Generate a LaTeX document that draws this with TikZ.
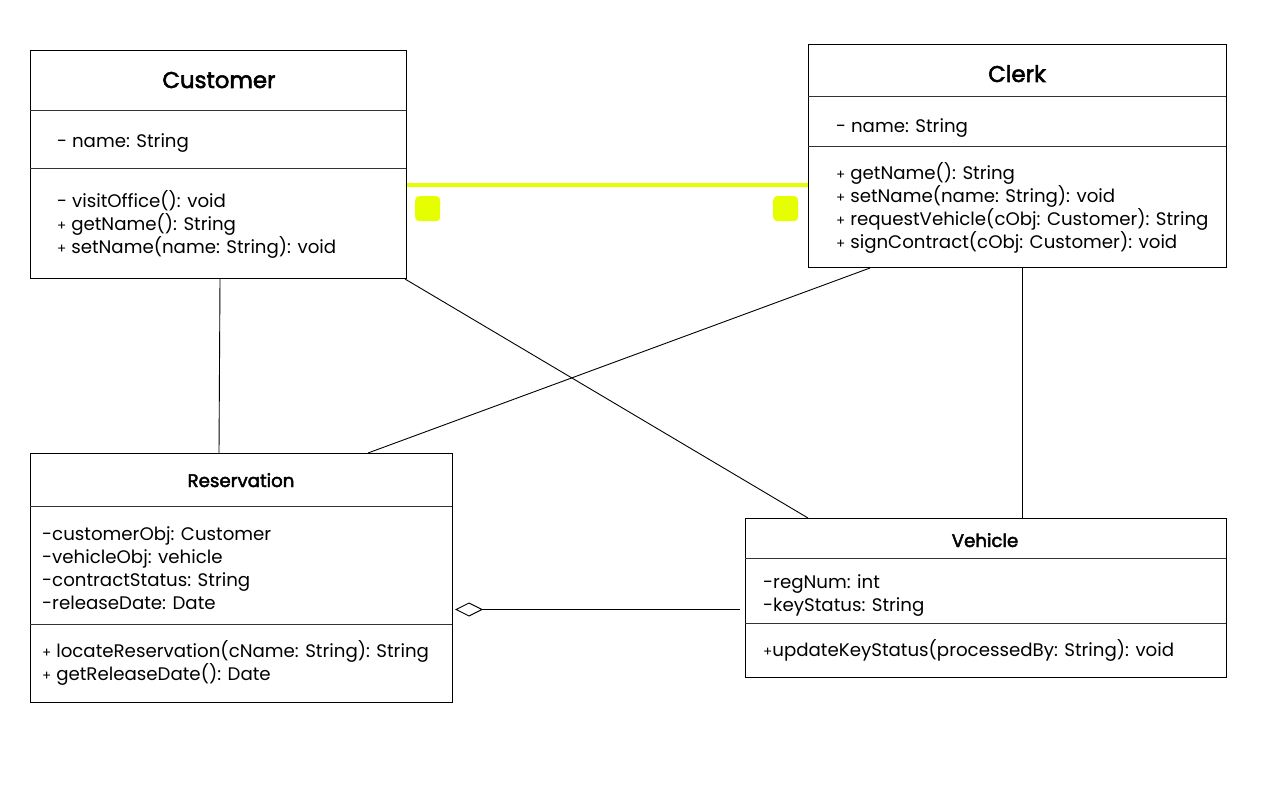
\documentclass[tikz,border=0pt]{standalone}
\usepackage{fontspec}
\setmainfont{Poppins}
\newfontfamily\titlefont[FakeBold=2.5]{Poppins}
\usetikzlibrary{arrows.meta}
\definecolor{hl}{RGB}{230,255,0}
\newcommand{\pl}{{\fontsize{13.5}{13.5}\selectfont+}}
\tikzset{
  box/.style={draw=black, line width=1pt, anchor=north west, inner sep=0pt, fill=white},
  sep/.style={line width=1pt, draw=black!80},
  txt/.style={anchor=base west, inner sep=0pt, font=\fontsize{18.2}{23}\selectfont},
  bigtitle/.style={anchor=base, inner sep=0pt, font=\fontsize{22.8}{26}\selectfont\titlefont},
  smalltitle/.style={anchor=base, inner sep=0pt, font=\fontsize{18.2}{22}\selectfont\titlefont},
  conn/.style={line width=0.9pt, draw=black},
  handle/.style={fill=hl, draw=none, rounded corners=4pt, minimum size=25pt, inner sep=0pt, anchor=north west},
}
\begin{document}
\begin{tikzpicture}[x=1pt,y=-1pt]
\useasboundingbox (0,0) rectangle (1266,791);
\fill[white] (0,0) rectangle (1266,791);

% ---------- Customer ----------
\node[box, minimum width=376pt, minimum height=228pt] (cust) at (30,50) {};
\draw[sep] (30,111) -- (406,111);
\draw[sep] (30,169) -- (406,169);
\node[bigtitle] (custT) at (219,88) {Customer};
\node[txt] (c1) at (57,148) {- name: String};
\node[txt] (c2) at (57,208) {- visitOffice(): void};
\node[txt] (c3) at (57,231) {\pl{} getName(): String};
\node[txt] (c4) at (57,254) {\pl{} setName(name: String): void};

% ---------- Clerk ----------
\node[box, minimum width=418pt, minimum height=223pt] (clerk) at (808,44) {};
\draw[sep] (808,97) -- (1226,97);
\draw[sep] (808,147) -- (1226,147);
\node[bigtitle] (clerkT) at (1017,82) {Clerk};
\node[txt] (k1) at (836,133) {- name: String};
\node[txt] (k2) at (836,180) {\pl{} getName(): String};
\node[txt] (k3) at (836,203) {\pl{} setName(name: String): void};
\node[txt] (k4) at (836,226) {\pl{} requestVehicle(cObj: Customer): String};
\node[txt] (k5) at (836,249) {\pl{} signContract(cObj: Customer): void};

% ---------- Reservation ----------
\node[box, minimum width=422pt, minimum height=249pt] (res) at (30,453) {};
\draw[sep] (30,506) -- (452,506);
\draw[sep] (30,624) -- (452,624);
\node[smalltitle] (resT) at (241,487) {Reservation};
\node[txt] (r1) at (42,540) {-customerObj: Customer};
\node[txt] (r2) at (42,563) {-vehicleObj: vehicle};
\node[txt] (r3) at (42,586) {-contractStatus: String};
\node[txt] (r4) at (42,609) {-releaseDate: Date};
\node[txt] (r5) at (42,657) {\pl{} locateReservation(cName: String): String};
\node[txt] (r6) at (42,680) {\pl{} getReleaseDate(): Date};

% ---------- Vehicle ----------
\node[box, minimum width=481pt, minimum height=159pt] (veh) at (745,518) {};
\draw[sep] (745,558) -- (1226,558);
\draw[sep] (745,623) -- (1226,623);
\node[smalltitle] (vehT) at (985,547) {Vehicle};
\node[txt] (v1) at (763,588) {-regNum: int};
\node[txt] (v2) at (763,611) {-keyStatus: String};
\node[txt] (v3) at (763,656) {\pl{}updateKeyStatus(processedBy: String): void};

% ---------- connectors ----------
\coordinate (cA) at ([xshift=190pt]cust.south west);
\coordinate (rA) at ([xshift=189pt]res.north west);
\draw[conn] (cA) -- (rA);
\coordinate (cB) at ([xshift=-2pt]cust.south east);
\coordinate (vB) at ([xshift=63pt]veh.north west);
\draw[conn] (cB) -- (vB);
\coordinate (kC) at ([xshift=62pt]clerk.south west);
\coordinate (rC) at ([xshift=338pt]res.north west);
\draw[conn] (kC) -- (rC);
\coordinate (kD) at ([xshift=214pt]clerk.south west);
\coordinate (vD) at ([xshift=277pt]veh.north west);
\draw[conn] (kD) -- (vD);
% aggregation
\coordinate (rE) at ([xshift=2pt,yshift=-31.5pt]res.east);
\coordinate (vE) at ([xshift=-5pt,yshift=-11.5pt]veh.west);
\draw[conn, -{Diamond[open, length=28pt, width=14pt, line width=0.9pt]}] (vE) -- (rE);

% selected association Customer -- Clerk
\coordinate (cS) at (cust.east |- 0,185);
\coordinate (kS) at (clerk.west |- 0,185);
\draw[draw=hl, line width=3.5pt] (cS) -- (kS);
\node[handle] (h1) at (415,196) {};
\node[handle] (h2) at (773,196) {};
\end{tikzpicture}
\end{document}
